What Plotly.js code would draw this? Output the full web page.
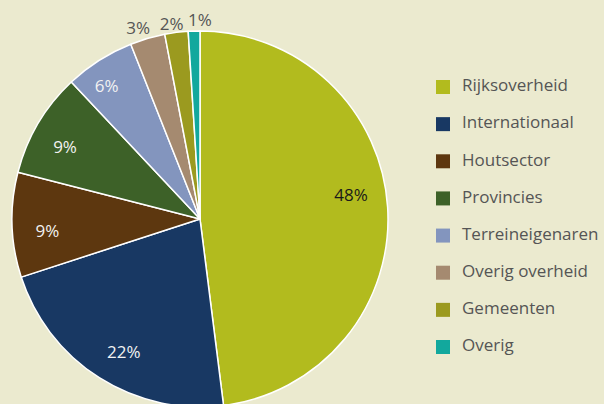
<!DOCTYPE html>
<html><head><meta charset="utf-8">
<script src="https://cdn.plot.ly/plotly-3.0.1.min.js"></script>
<style>html,body{margin:0;padding:0;overflow:hidden;background:#ebeacf;width:604px;height:404px;}#chart{width:624px;height:450px;margin-left:-20px;}</style>
</head><body><div id="chart"></div>
<script>
const categories = ["Rijksoverheid","Internationaal","Houtsector","Provincies","Terreineigenaren","Overig overheid","Gemeenten","Overig"];
const values = [48,22,9,9,6,3,2,1];
const colors = ["#b2bb1e","#183863","#5d370f","#3d6128","#8395be","#a58a70","#9b9a1f","#12a89d"];
const labelColors = ["#1a1a1a","#f2f2f2","#f2f2f2","#f2f2f2","#f2f2f2","#555555","#555555","#555555"];

const W = 624, H = 450, OX = 20;
const CX = 200 + OX, CY = 219, R = 188;
const font = "Open Sans, sans-serif";
const T = "rgba(0,0,0,0)";
const clear = categories.map(()=>T);
function dom(r){ return {x: [(CX-r)/W, (CX+r)/W], y: [(H-(CY+r))/H, (H-(CY-r))/H]}; }

const common = {type: "pie", labels: categories, values: values, sort: false, direction: "clockwise", rotation: 0, showlegend: false, hoverinfo: "skip"};

// label placement rings: [outer radius, inner radius, rotation, slice indices]
const rings = [
  [R, 118, -5.5, [0]],
  [R, 118, -2.5, [1,2,3]],
  [R, 138, -2.5, [4]],
  [213, 189, -1.7, [5]],
  [210, 186, -1, [6]],
  [205, 181, 2, [7]]
];
function labelRing(spec){
  const [rOuter, rInner, rot, which] = spec;
  return Object.assign({}, common, {
    marker: {colors: clear, line: {width: 0}},
    hole: rInner/rOuter,
    rotation: rot,
    texttemplate: categories.map((c,i)=> which.includes(i) ? "%{percent:.0%}" : ""),
    textposition: "inside",
    insidetextorientation: "horizontal",
    textfont: {family: font, size: 17, color: labelColors},
    domain: dom(rOuter)
  });
}

const pie = Object.assign({}, common, {
  marker: {colors: colors, line: {color: "#ffffff", width: 1.5}},
  textinfo: "none",
  hoverinfo: "label+percent",
  domain: dom(R)
});

const idx = categories.map((c,i)=>i);
const legendMarkers = {
  type: "scatter", mode: "markers",
  x: idx.map(()=>13), y: idx,
  marker: {symbol: "square", size: 14, color: colors, line: {width: 0}},
  hoverinfo: "skip", showlegend: false
};
const legendText = {
  type: "scatter", mode: "text",
  x: idx.map(()=>32), y: idx,
  text: categories, textposition: "middle right",
  textfont: {family: font, size: 17, color: "#555555"},
  hoverinfo: "skip", showlegend: false
};

const layout = {
  width: W, height: H,
  margin: {l:0, r:0, t:0, b:0},
  paper_bgcolor: "#ebeacf", plot_bgcolor: T,
  showlegend: false,
  uniformtext: {mode: "show", minsize: 17},
  xaxis: {domain: [(430+OX)/W, 1], range: [0, 174], visible: false, fixedrange: true},
  yaxis: {domain: [(H-360)/H, (H-74)/H], range: [7.35, -0.35], visible: false, fixedrange: true}
};

Plotly.newPlot("chart", [pie].concat(rings.map(labelRing), [legendMarkers, legendText]), layout, {displayModeBar: false, staticPlot: true});
</script></body></html>
